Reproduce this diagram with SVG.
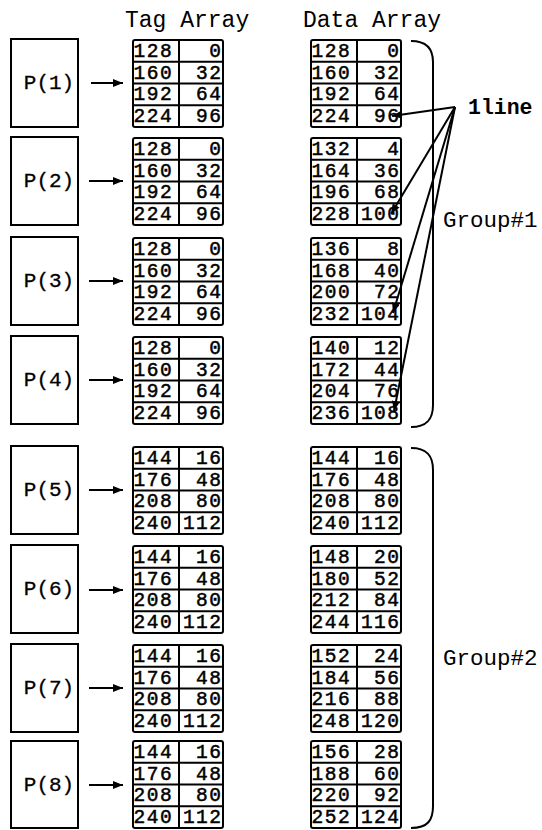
<svg xmlns="http://www.w3.org/2000/svg" xmlns:xlink="http://www.w3.org/1999/xlink" width="542" height="830" viewBox="0 0 542 830">
<style>
  .t { font-family: "Liberation Mono", "Courier New", monospace; fill: #000; }
  .d { font-family: "Liberation Mono", "Courier New", monospace; font-size: 19.5px; letter-spacing: 1.5px; fill: #000; stroke: #000; stroke-width: 0.5; }
  .r { text-anchor: end; }
  .box { fill: #fff; stroke: #000; stroke-width: 2; }
  .grid { fill: none; stroke: #000; stroke-width: 2; }
  .arr { stroke: #000; stroke-width: 2; fill: none; }
  .lbl { font-family: "Liberation Mono", "Courier New", monospace; font-size: 21px; text-anchor: middle; fill: #000; stroke: #000; stroke-width: 0.3; }
</style>
<defs>
  <g id="frame">
    <rect class="grid" x="0" y="0" width="90" height="87" rx="2"/>
    <line class="grid" x1="46" y1="0" x2="46" y2="87"/>
    <line class="grid" x1="0" y1="21.75" x2="90" y2="21.75"/>
    <line class="grid" x1="0" y1="43.5" x2="90" y2="43.5"/>
    <line class="grid" x1="0" y1="65.25" x2="90" y2="65.25"/>
  </g>
  <marker id="ah" viewBox="0 0 10 8" refX="10" refY="4" markerWidth="10" markerHeight="8" markerUnits="userSpaceOnUse" orient="auto">
    <path d="M0,0 L10,4 L0,8 Z" fill="#000"/>
  </marker>
</defs>

<text class="t" x="125" y="27" font-size="23">Tag Array</text>
<text class="t" x="303" y="27" font-size="23">Data Array</text>

<!-- P nodes -->
<g id="p1"><rect class="box" x="11" y="39" width="67" height="88"/><text class="lbl" x="49" y="89">P(1)</text></g>
<g id="p2"><rect class="box" x="11" y="137" width="67" height="88"/><text class="lbl" x="49" y="187">P(2)</text></g>
<g id="p3"><rect class="box" x="11" y="237" width="67" height="88"/><text class="lbl" x="49" y="287">P(3)</text></g>
<g id="p4"><rect class="box" x="11" y="336" width="67" height="88"/><text class="lbl" x="49" y="386">P(4)</text></g>
<g id="p5"><rect class="box" x="11" y="446" width="67" height="88"/><text class="lbl" x="49" y="496">P(5)</text></g>
<g id="p6"><rect class="box" x="11" y="545" width="67" height="88"/><text class="lbl" x="49" y="595">P(6)</text></g>
<g id="p7"><rect class="box" x="11" y="644" width="67" height="88"/><text class="lbl" x="49" y="694">P(7)</text></g>
<g id="p8"><rect class="box" x="11" y="741" width="67" height="87"/><text class="lbl" x="49" y="791">P(8)</text></g>

<!-- Tag arrays -->
<g id="tag1" transform="translate(133,40)"><use xlink:href="#frame" href="#frame"/>
  <text class="d" x="0.5" y="17">128</text><text class="d r" x="89.5" y="17">0</text>
  <text class="d" x="0.5" y="38.5">160</text><text class="d r" x="89.5" y="38.5">32</text>
  <text class="d" x="0.5" y="60">192</text><text class="d r" x="89.5" y="60">64</text>
  <text class="d" x="0.5" y="81.5">224</text><text class="d r" x="89.5" y="81.5">96</text></g>
<g id="tag2" transform="translate(133,138)"><use xlink:href="#frame" href="#frame"/>
  <text class="d" x="0.5" y="17">128</text><text class="d r" x="89.5" y="17">0</text>
  <text class="d" x="0.5" y="38.5">160</text><text class="d r" x="89.5" y="38.5">32</text>
  <text class="d" x="0.5" y="60">192</text><text class="d r" x="89.5" y="60">64</text>
  <text class="d" x="0.5" y="81.5">224</text><text class="d r" x="89.5" y="81.5">96</text></g>
<g id="tag3" transform="translate(133,238)"><use xlink:href="#frame" href="#frame"/>
  <text class="d" x="0.5" y="17">128</text><text class="d r" x="89.5" y="17">0</text>
  <text class="d" x="0.5" y="38.5">160</text><text class="d r" x="89.5" y="38.5">32</text>
  <text class="d" x="0.5" y="60">192</text><text class="d r" x="89.5" y="60">64</text>
  <text class="d" x="0.5" y="81.5">224</text><text class="d r" x="89.5" y="81.5">96</text></g>
<g id="tag4" transform="translate(133,337)"><use xlink:href="#frame" href="#frame"/>
  <text class="d" x="0.5" y="17">128</text><text class="d r" x="89.5" y="17">0</text>
  <text class="d" x="0.5" y="38.5">160</text><text class="d r" x="89.5" y="38.5">32</text>
  <text class="d" x="0.5" y="60">192</text><text class="d r" x="89.5" y="60">64</text>
  <text class="d" x="0.5" y="81.5">224</text><text class="d r" x="89.5" y="81.5">96</text></g>
<g id="tag5" transform="translate(133,447)"><use xlink:href="#frame" href="#frame"/>
  <text class="d" x="0.5" y="17">144</text><text class="d r" x="89.5" y="17">16</text>
  <text class="d" x="0.5" y="38.5">176</text><text class="d r" x="89.5" y="38.5">48</text>
  <text class="d" x="0.5" y="60">208</text><text class="d r" x="89.5" y="60">80</text>
  <text class="d" x="0.5" y="81.5">240</text><text class="d r" x="89.5" y="81.5">112</text></g>
<g id="tag6" transform="translate(133,546)"><use xlink:href="#frame" href="#frame"/>
  <text class="d" x="0.5" y="17">144</text><text class="d r" x="89.5" y="17">16</text>
  <text class="d" x="0.5" y="38.5">176</text><text class="d r" x="89.5" y="38.5">48</text>
  <text class="d" x="0.5" y="60">208</text><text class="d r" x="89.5" y="60">80</text>
  <text class="d" x="0.5" y="81.5">240</text><text class="d r" x="89.5" y="81.5">112</text></g>
<g id="tag7" transform="translate(133,645)"><use xlink:href="#frame" href="#frame"/>
  <text class="d" x="0.5" y="17">144</text><text class="d r" x="89.5" y="17">16</text>
  <text class="d" x="0.5" y="38.5">176</text><text class="d r" x="89.5" y="38.5">48</text>
  <text class="d" x="0.5" y="60">208</text><text class="d r" x="89.5" y="60">80</text>
  <text class="d" x="0.5" y="81.5">240</text><text class="d r" x="89.5" y="81.5">112</text></g>
<g id="tag8" transform="translate(133,741)"><use xlink:href="#frame" href="#frame"/>
  <text class="d" x="0.5" y="17">144</text><text class="d r" x="89.5" y="17">16</text>
  <text class="d" x="0.5" y="38.5">176</text><text class="d r" x="89.5" y="38.5">48</text>
  <text class="d" x="0.5" y="60">208</text><text class="d r" x="89.5" y="60">80</text>
  <text class="d" x="0.5" y="81.5">240</text><text class="d r" x="89.5" y="81.5">112</text></g>

<!-- Data arrays -->
<g id="data1" transform="translate(311,40)"><use xlink:href="#frame" href="#frame"/>
  <text class="d" x="0.5" y="17">128</text><text class="d r" x="89.5" y="17">0</text>
  <text class="d" x="0.5" y="38.5">160</text><text class="d r" x="89.5" y="38.5">32</text>
  <text class="d" x="0.5" y="60">192</text><text class="d r" x="89.5" y="60">64</text>
  <text class="d" x="0.5" y="81.5">224</text><text class="d r" x="89.5" y="81.5">96</text></g>
<g id="data2" transform="translate(311,138)"><use xlink:href="#frame" href="#frame"/>
  <text class="d" x="0.5" y="17">132</text><text class="d r" x="89.5" y="17">4</text>
  <text class="d" x="0.5" y="38.5">164</text><text class="d r" x="89.5" y="38.5">36</text>
  <text class="d" x="0.5" y="60">196</text><text class="d r" x="89.5" y="60">68</text>
  <text class="d" x="0.5" y="81.5">228</text><text class="d r" x="89.5" y="81.5">100</text></g>
<g id="data3" transform="translate(311,238)"><use xlink:href="#frame" href="#frame"/>
  <text class="d" x="0.5" y="17">136</text><text class="d r" x="89.5" y="17">8</text>
  <text class="d" x="0.5" y="38.5">168</text><text class="d r" x="89.5" y="38.5">40</text>
  <text class="d" x="0.5" y="60">200</text><text class="d r" x="89.5" y="60">72</text>
  <text class="d" x="0.5" y="81.5">232</text><text class="d r" x="89.5" y="81.5">104</text></g>
<g id="data4" transform="translate(311,337)"><use xlink:href="#frame" href="#frame"/>
  <text class="d" x="0.5" y="17">140</text><text class="d r" x="89.5" y="17">12</text>
  <text class="d" x="0.5" y="38.5">172</text><text class="d r" x="89.5" y="38.5">44</text>
  <text class="d" x="0.5" y="60">204</text><text class="d r" x="89.5" y="60">76</text>
  <text class="d" x="0.5" y="81.5">236</text><text class="d r" x="89.5" y="81.5">108</text></g>
<g id="data5" transform="translate(311,447)"><use xlink:href="#frame" href="#frame"/>
  <text class="d" x="0.5" y="17">144</text><text class="d r" x="89.5" y="17">16</text>
  <text class="d" x="0.5" y="38.5">176</text><text class="d r" x="89.5" y="38.5">48</text>
  <text class="d" x="0.5" y="60">208</text><text class="d r" x="89.5" y="60">80</text>
  <text class="d" x="0.5" y="81.5">240</text><text class="d r" x="89.5" y="81.5">112</text></g>
<g id="data6" transform="translate(311,546)"><use xlink:href="#frame" href="#frame"/>
  <text class="d" x="0.5" y="17">148</text><text class="d r" x="89.5" y="17">20</text>
  <text class="d" x="0.5" y="38.5">180</text><text class="d r" x="89.5" y="38.5">52</text>
  <text class="d" x="0.5" y="60">212</text><text class="d r" x="89.5" y="60">84</text>
  <text class="d" x="0.5" y="81.5">244</text><text class="d r" x="89.5" y="81.5">116</text></g>
<g id="data7" transform="translate(311,645)"><use xlink:href="#frame" href="#frame"/>
  <text class="d" x="0.5" y="17">152</text><text class="d r" x="89.5" y="17">24</text>
  <text class="d" x="0.5" y="38.5">184</text><text class="d r" x="89.5" y="38.5">56</text>
  <text class="d" x="0.5" y="60">216</text><text class="d r" x="89.5" y="60">88</text>
  <text class="d" x="0.5" y="81.5">248</text><text class="d r" x="89.5" y="81.5">120</text></g>
<g id="data8" transform="translate(311,741)"><use xlink:href="#frame" href="#frame"/>
  <text class="d" x="0.5" y="17">156</text><text class="d r" x="89.5" y="17">28</text>
  <text class="d" x="0.5" y="38.5">188</text><text class="d r" x="89.5" y="38.5">60</text>
  <text class="d" x="0.5" y="60">220</text><text class="d r" x="89.5" y="60">92</text>
  <text class="d" x="0.5" y="81.5">252</text><text class="d r" x="89.5" y="81.5">124</text></g>

<!-- Group braces and labels -->
<g id="group1">
  <path class="arr" d="M411,41 C428,41 433,50 433,62 L433,405 C433,418 428,427 411,427"/>
  <text class="t" x="443" y="227" font-size="22.5">Group#1</text>
</g>
<g id="group2">
  <path class="arr" d="M411,448 C428,448 433,457 433,470 L433,806 C433,820 428,828 411,828"/>
  <text class="t" x="443" y="665" font-size="22.5">Group#2</text>
</g>
<g id="line-label">
  <text class="t" x="468" y="114" font-size="21.5" font-weight="bold">1line</text>
</g>

<!-- Connectors -->
<g id="connectors">
  <line class="arr" x1="91" y1="83" x2="123" y2="83" stroke-width="1.5" marker-end="url(#ah)"/>
  <line class="arr" x1="89" y1="181" x2="123" y2="181" marker-end="url(#ah)"/>
  <line class="arr" x1="89" y1="281" x2="123" y2="281" marker-end="url(#ah)"/>
  <line class="arr" x1="89" y1="380" x2="123" y2="380" marker-end="url(#ah)"/>
  <line class="arr" x1="89" y1="490" x2="123" y2="490" marker-end="url(#ah)"/>
  <line class="arr" x1="89" y1="590" x2="123" y2="590" marker-end="url(#ah)"/>
  <line class="arr" x1="89" y1="688" x2="123" y2="688" marker-end="url(#ah)"/>
  <line class="arr" x1="89" y1="785" x2="123" y2="785" marker-end="url(#ah)"/>
  <line class="arr" x1="455" y1="107" x2="392" y2="116" marker-end="url(#ah)"/>
  <line class="arr" x1="455" y1="107" x2="391" y2="214" marker-end="url(#ah)"/>
  <line class="arr" x1="455" y1="107" x2="393" y2="313" marker-end="url(#ah)"/>
  <line class="arr" x1="455" y1="107" x2="394" y2="411" marker-end="url(#ah)"/>
</g>
</svg>
